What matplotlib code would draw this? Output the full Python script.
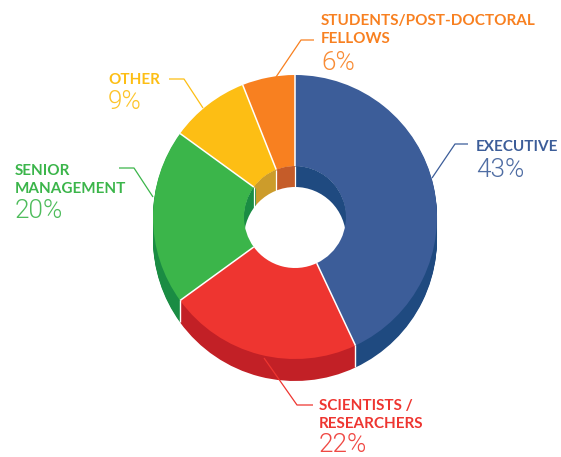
#!/usr/bin/env python3

import matplotlib
matplotlib.use("Agg")
import numpy as np
import matplotlib.pyplot as plt
from matplotlib.patches import Circle

# data
categories = ["EXECUTIVE", "SCIENTISTS /\nRESEARCHERS", "SENIOR\nMANAGEMENT", "OTHER", "STUDENTS/POST-DOCTORAL\nFELLOWS"]
shares = [43, 22, 20, 9, 6]
share_labels = ["43%", "22%", "20%", "9%", "6%"]

# colours, same order
top_colors = ["#3C5D99", "#EE3530", "#3BB54A", "#FDBE14", "#F88020"]
side_colors = ["#1F4A80", "#C22026", "#1A8C43", "#CC9C2B", "#C55C29"]

W, H = 561, 457
cx, cy = 295, H - 217
r_out, r_in = 142, 51
depth = 22
hole_shift = 21

fig = plt.figure(figsize=(W / 100, H / 100), dpi=100)
ax = fig.add_axes([0, 0, 1, 1])


def draw_pie(colors, center, radius, width=None, z=1):
    wedges, _ = ax.pie(shares, colors=colors, center=center, radius=radius, startangle=90,
                       counterclock=False, frame=True,
                       wedgeprops=dict(width=width, linewidth=0))
    for w in wedges:
        w.set_zorder(z)


# extruded side of the ring
for d in range(depth, 0, -1):
    draw_pie(side_colors, (cx, cy - d), r_out, z=1)

# hole: white disc, inner wall stack, see-through part. the top face goes over all of it
ax.add_patch(Circle((cx, cy), r_in, fc="white", ec="none", zorder=2))
for d in range(hole_shift, -1, -1):
    draw_pie(side_colors, (cx, cy - d), r_in, width=3, z=3)
ax.add_patch(Circle((cx, cy - hole_shift), r_in, fc="white", ec="none", zorder=4))

# top face
draw_pie(top_colors, (cx, cy), r_out, width=r_out - r_in, z=5)

# white dividers, from the cumulative shares
edges = np.cumsum([0] + shares[:-1]) / np.sum(shares) * 2 * np.pi
for a in edges:
    dx, dy = np.sin(a), np.cos(a)
    ax.plot([cx + r_in * dx, cx + r_out * dx], [cy + r_in * dy, cy + r_out * dy],
            color="white", lw=1.1, zorder=6, solid_capstyle="butt")
    # on the side of the ring, where it faces the viewer
    if dy < 0:
        ax.plot([cx + r_out * dx] * 2, [cy + r_out * dy, cy + r_out * dy - depth],
                color="white", lw=1.0, zorder=6, solid_capstyle="butt")
    # on the inner wall
    if dy > 0:
        ax.plot([cx + r_in * dx] * 2, [cy + r_in * dy, cy + r_in * dy - hole_shift],
                color="white", lw=0.9, zorder=6, solid_capstyle="butt")

# leader lines in pixel coords from the top left
leaders = [
    [(432, 178), (455, 144), (468, 144)],
    [(264, 358), (297, 405), (313, 405)],
    [(153, 197), (134, 168), (119, 168)],
    [(203, 108), (184, 79), (169, 79)],
    [(276, 77), (301, 40), (314, 40)],
]
for pts, col in zip(leaders, top_colors):
    xs, ys = zip(*pts)
    ax.plot(xs, [H - y for y in ys], color=col, lw=0.9, zorder=7, solid_capstyle="butt")

# labels: x, y of the first line top, y of the percent baseline
label_pos = [(476, 140, 177), (319, 399, 452), (15, 164, 218), (108, 73, 109), (321, 14, 70)]
for name, pct, col, (x, y, y_pct) in zip(categories, share_labels, top_colors, label_pos):
    ax.text(x, H - y, name, color=col, family="Lato", weight="bold", fontsize=11,
            va="top", ha="left", linespacing=1.38, zorder=8)
    ax.text(x, H - y_pct, pct, color=col, family="Roboto", weight=300, fontsize=18.8,
            va="baseline", ha="left", alpha=0.9, zorder=8)

ax.set_xlim(0, W)
ax.set_ylim(0, H)
ax.set_aspect("equal")
ax.axis("off")

plt.savefig("out.png", dpi=100)
